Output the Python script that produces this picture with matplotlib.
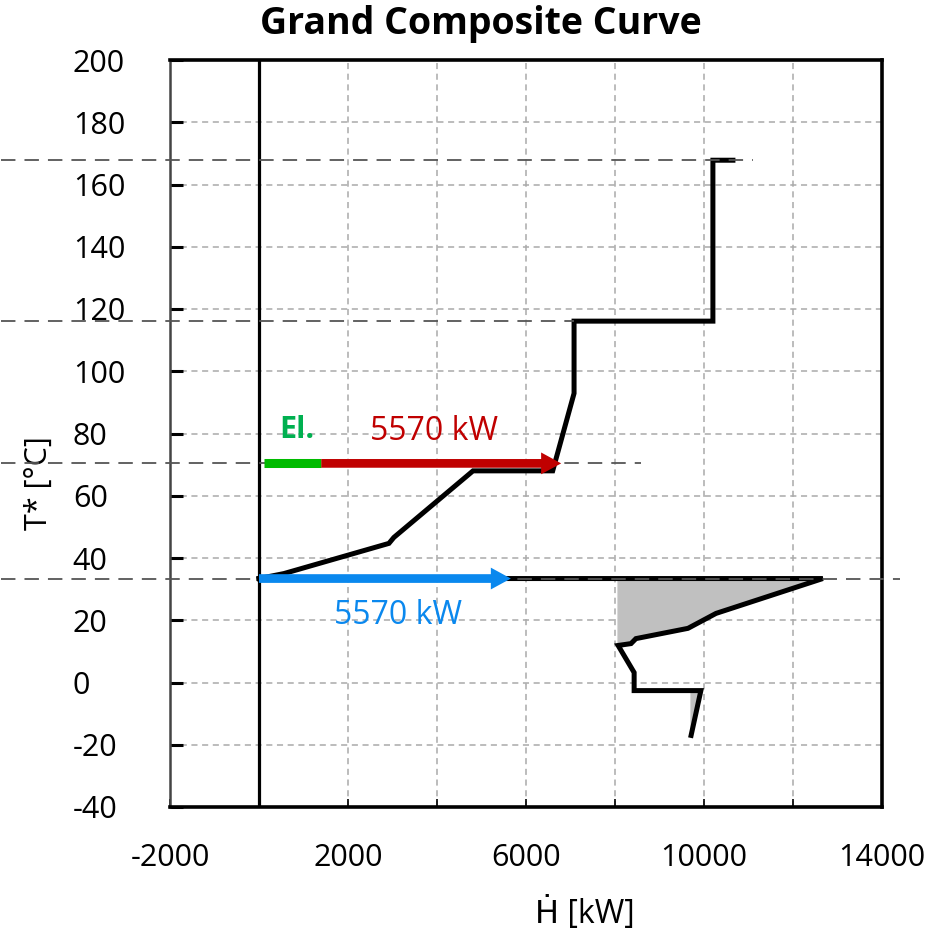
import matplotlib.pyplot as plt
import numpy as np

plt.rcParams['font.family'] = ['Open Sans', 'DejaVu Sans']
plt.rcParams['axes.unicode_minus'] = False

# hot part of the grand composite curve (above pinch)
H_hot = [10650, 10200, 10200, 7080, 7080, 6600, 4810, 3030, 2920, 560, 0]
T_hot = [167.8, 167.8, 116.1, 116.1, 92.9, 68.0, 68.0, 46.6, 44.7, 35.0, 33.4]

# cold part (below pinch)
H_cold = [0, 12670, 10270, 9640, 8470, 8360, 8070, 8430, 8430, 9930, 9710]
T_cold = [33.4, 33.4, 22.2, 17.4, 14.1, 12.5, 11.9, 3.2, -2.6, -2.6, -17.0]

# pockets (shaded)
pocket1_H = [8070, 12670, 10270, 9640, 8470, 8360, 8070]
pocket1_T = [33.4, 33.4, 22.2, 17.4, 14.1, 12.5, 11.9]
pocket2_H = [9930, 9710, 9710]
pocket2_T = [-2.6, -17.0, -2.6]

# reference temperature levels (dashed) and how far they reach
levels_T = [167.8, 116.1, 70.4, 33.4]
levels_Hend = [11100, 7080, 8580, 14400]

el_H = [110, 1400]
heat_T = 70.4
red_H = [1400, 6790]
blue_T = 33.4
blue_H = [0, 5660]
duty = 5570

fig = plt.figure(figsize=(9.53, 9.33), dpi=100)
ax = fig.add_axes([170/953, 1-807/933, 712/953, 747/933])

ax.set_xlim(-2000, 14000)
ax.set_ylim(-40, 200)

ax.set_xticks(np.arange(-2000, 14001, 4000))
ax.set_xticks(np.arange(0, 14000, 4000), minor=True)
ax.set_yticks(np.arange(-40, 201, 20))
ax.grid(which='both', color='#aaaaaa', linestyle=(0, (4, 3)), linewidth=1.1)
ax.set_axisbelow(True)

ax.tick_params(axis='both', which='both', direction='in', labelsize=22)
ax.tick_params(axis='y', length=9, width=2.2, pad=70)
ax.tick_params(axis='x', which='major', length=6, width=1.2, pad=26)
ax.tick_params(axis='x', which='minor', length=6, width=1.2)
for lab in ax.get_yticklabels():
    lab.set_horizontalalignment('left')

for s in ['top', 'right', 'bottom']:
    ax.spines[s].set_linewidth(2.6)
    ax.spines[s].set_color('black')
ax.spines['left'].set_linewidth(1.8)
ax.spines['left'].set_color('#444444')

# pockets
ax.fill(pocket1_H, pocket1_T, color='#c0c0c0', zorder=2)
ax.fill(pocket2_H, pocket2_T, color='#c0c0c0', zorder=2)

# H=0 axis line
ax.axvline(0, color='black', lw=2.3, zorder=3)

ax.plot(H_hot, T_hot, color='black', lw=3.6, zorder=4, solid_joinstyle='miter')
ax.plot(H_cold, T_cold, color='black', lw=3.6, zorder=4, solid_joinstyle='miter')

# dashed temperature levels extending out of the axes
for t, he in zip(levels_T, levels_Hend):
    ax.plot([-5800, he], [t, t], color='#555555', lw=1.3, dashes=(8, 5),
            clip_on=False, zorder=5)

# electricity + heat pump arrows
ax.plot(el_H, [heat_T, heat_T], color='#00bb00', lw=6.5, solid_capstyle='butt', zorder=6)
ax.arrow(red_H[0], heat_T, red_H[1]-red_H[0], 0, width=2.8, head_width=7,
         head_length=450, length_includes_head=True, color='#c00000', lw=0, zorder=6)
ax.arrow(blue_H[0], blue_T, blue_H[1]-blue_H[0], 0, width=2.8, head_width=7,
         head_length=450, length_includes_head=True, color='#0a88ee', lw=0, zorder=6)

ax.text(850, 81, 'El.', color='#00b050', fontsize=22, fontweight='bold',
        ha='center', va='center')
ax.text(3930, 80.5, f'{duty} kW', color='#c00000', fontsize=23,
        ha='center', va='center')
ax.text(3120, 21.5, f'{duty} kW', color='#0a88ee', fontsize=23,
        ha='center', va='center')

ax.set_ylabel('T* [°C]', fontsize=22)
ax.yaxis.set_label_coords(-0.163, 0.434)
ax.set_xlabel('Ḣ [kW]', fontsize=23)
ax.xaxis.set_label_coords(0.583, -0.12)

fig.text(481/953, 1-24/933, 'Grand Composite Curve', fontsize=27,
         fontweight='bold', ha='center', va='center')

fig.savefig('out.png', dpi=100)
